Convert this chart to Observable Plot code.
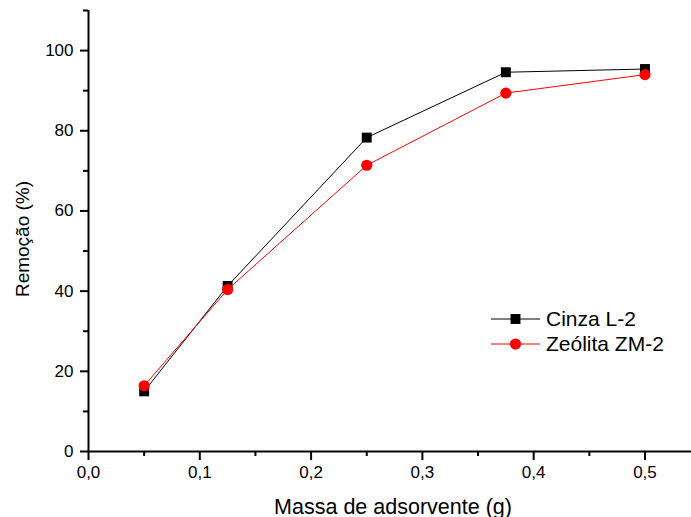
<!DOCTYPE html>
<html><head><meta charset="utf-8">
<script src="https://cdn.jsdelivr.net/npm/d3@7"></script>
<script src="https://cdn.jsdelivr.net/npm/@observablehq/plot@0.6"></script>
<style>
body{margin:0;background:#fff;font-family:"Liberation Sans",Arial,sans-serif}
#wrap{position:relative;width:691px;height:517px;overflow:hidden}
#legend{position:absolute;left:488px;top:305px}
</style>
</head><body><div id="wrap"></div>
<script>
const massa = [0.05, 0.125, 0.25, 0.375, 0.5];
const cinza = [15.0, 41.3, 78.3, 94.6, 95.4];
const zeolita = [16.4, 40.4, 71.4, 89.4, 94.0];
const series = ["Cinza L-2", "Zeólita ZM-2"];
const colors = ["#000000", "#ff0000"];
const symbols = ["square", "circle"];
const xMajor = [0, 0.1, 0.2, 0.3, 0.4, 0.5];
const xMinor = [0.05, 0.15, 0.25, 0.35, 0.45];
const yMajor = [0, 20, 40, 60, 80, 100];
const yMinor = [10, 30, 50, 70, 90, 110];
const xLabel = "Massa de adsorvente (g)";
const yLabel = "Remoção (%)";

const data = [];
massa.forEach((m, i) => {
  data.push({massa: m, valor: cinza[i], serie: series[0]});
  data.push({massa: m, valor: zeolita[i], serie: series[1]});
});
const s0 = data.filter(d => d.serie === series[0]);
const s1 = data.filter(d => d.serie === series[1]);
const fmt = d => d.toFixed(1).replace(".", ",");
const font = '"Liberation Sans", Arial, sans-serif';

const chart = Plot.plot({
  width: 691, height: 517,
  marginLeft: 88, marginRight: 0, marginTop: 10, marginBottom: 66,
  x: {domain: [0, 0.5418]},
  y: {domain: [0, 110]},
  style: {fontFamily: font, fontSize: "17px", color: "#000", background: "#fff"},
  marks: [
    Plot.axisX(xMajor, {tickSize: 9, tickPadding: 5, tickFormat: fmt, strokeWidth: 2, fontSize: 17, label: null}),
    Plot.axisX(xMinor, {tickSize: 5, text: null, strokeWidth: 2, label: null}),
    Plot.axisY(yMajor, {tickSize: 8, tickPadding: 7, strokeWidth: 2, fontSize: 17, label: null}),
    Plot.axisY(yMinor, {tickSize: 5, text: null, strokeWidth: 2, label: null}),
    Plot.ruleX([0], {strokeWidth: 2}),
    Plot.ruleY([0], {strokeWidth: 2}),
    Plot.line(s0, {x: "massa", y: "valor", stroke: colors[0], strokeWidth: 1}),
    Plot.dot(s0, {x: "massa", y: "valor", symbol: symbols[0], r: 5.6, fill: colors[0], stroke: "none"}),
    Plot.line(s1, {x: "massa", y: "valor", stroke: colors[1], strokeWidth: 1}),
    Plot.dot(s1, {x: "massa", y: "valor", symbol: symbols[1], r: 5.6, fill: colors[1], stroke: "none"}),
    Plot.text([xLabel], {frameAnchor: "bottom", text: d => d, dx: 3, dy: 62, lineAnchor: "bottom", fontSize: 21.5}),
    Plot.text([yLabel], {frameAnchor: "left", textAnchor: "middle", text: d => d, rotate: -90, dx: -66, dy: 8, fontSize: 19})
  ]
});
const wrap = document.getElementById("wrap");
wrap.appendChild(chart);

// legend
const leg = d3.select(wrap).append("svg").attr("id", "legend").attr("width", 203).attr("height", 60);
series.forEach((name, i) => {
  const g = leg.append("g").attr("transform", `translate(0,${14 + i * 25})`);
  g.append("line").attr("x1", 3).attr("x2", 52).attr("y1", 0).attr("y2", 0).attr("stroke", colors[i]).attr("stroke-width", 1);
  g.append("path").attr("d", d3.symbol(symbols[i] === "square" ? d3.symbolSquare : d3.symbolCircle, 5.6 * 5.6 * Math.PI)()).attr("transform", "translate(27.5,0)").attr("fill", colors[i]);
  g.append("text").attr("x", 58).attr("y", 0).attr("dy", "0.35em").attr("font-size", 21).attr("font-family", font).attr("fill", "#000").text(name);
});
</script>
</body></html>
